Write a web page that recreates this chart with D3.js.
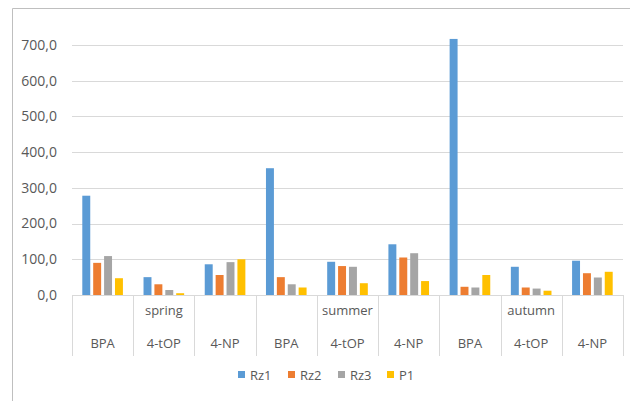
<!DOCTYPE html>
<html><head><meta charset="utf-8">
<script src="https://cdn.jsdelivr.net/npm/d3@7"></script>
<style>
html,body{margin:0;padding:0;background:#fff;}
svg{display:block;font-family:"Open Sans","Noto Sans",sans-serif;}
</style></head>
<body><svg id="c" width="630" height="401"></svg>
<script>
const categories = ["BPA","4-tOP","4-NP","BPA","4-tOP","4-NP","BPA","4-tOP","4-NP"];
const seasons = ["spring","summer","autumn"];
const seriesNames = ["Rz1","Rz2","Rz3","P1"];
const colors = ["#5B9BD5","#ED7D31","#A5A5A5","#FFC000"];
const Rz1 = [278, 50, 86, 355, 93, 142, 717, 79, 96];
const Rz2 = [90, 30, 56, 50, 81, 105, 23, 21, 61];
const Rz3 = [109, 14, 92, 30, 79, 117, 21, 18, 49];
const P1  = [47, 5, 100, 21, 33, 39, 56, 12, 65];
const yTicks = [0,100,200,300,400,500,600,700];

(function(){
const series = [Rz1, Rz2, Rz3, P1];
const svg = d3.select("#c");
const pL = 72, pR = 623, pT = 45, pB = 295;

// outer border
svg.append("line").attr("x1",12.5).attr("x2",12.5).attr("y1",8.5).attr("y2",401).attr("stroke","#bfbfbf");
svg.append("line").attr("x1",12.5).attr("x2",630).attr("y1",8.5).attr("y2",8.5).attr("stroke","#bfbfbf");

const y = d3.scaleLinear().domain([0,700]).range([pB, pT]);
const idx = d3.range(categories.length);
const x0 = d3.scaleBand().domain(idx).range([pL, pR]).padding(0);
const x1 = d3.scaleBand().domain(d3.range(4)).range([10.3, x0.bandwidth()-10.3]).paddingInner(0.27).paddingOuter(0);

// gridlines
svg.append("g").selectAll("line").data(yTicks.filter(d=>d>0)).join("line")
  .attr("x1",pL).attr("x2",pR)
  .attr("y1",d=>Math.round(y(d))+0.5).attr("y2",d=>Math.round(y(d))+0.5)
  .attr("stroke","#d9d9d9").attr("stroke-width",1);

// y labels
svg.append("g").selectAll("text").data(yTicks).join("text")
  .attr("x",57).attr("y",d=>y(d)).attr("dy","0.35em").attr("text-anchor","end")
  .attr("font-size",14).attr("fill","#595959")
  .text(d=>d3.format(".1f")(d).replace(".",","));

// bars
const g = svg.append("g");
series.forEach((vals, s) => {
  g.selectAll(null).data(vals).join("rect")
    .attr("x",(d,i)=>x0(i)+x1(s))
    .attr("width",x1.bandwidth())
    .attr("y",d=>y(d))
    .attr("height",d=>y(0)-y(d))
    .attr("fill",colors[s]);
});

// axis baseline
svg.append("line").attr("x1",pL).attr("x2",pR).attr("y1",pB+0.5).attr("y2",pB+0.5).attr("stroke","#d9d9d9");

// category separators
const seps = d3.range(categories.length+1).map(i => i<categories.length ? x0(i) : pR);
svg.append("g").selectAll("line").data(seps).join("line")
  .attr("x1",d=>Math.round(d)+0.5).attr("x2",d=>Math.round(d)+0.5)
  .attr("y1",pB).attr("y2",356)
  .attr("stroke","#d9d9d9");

// category labels
svg.append("g").selectAll("text").data(categories).join("text")
  .attr("x",(d,i)=>x0(i)+x0.bandwidth()/2).attr("y",343).attr("dy","0.35em")
  .attr("text-anchor","middle").attr("font-size",13).attr("fill","#595959").text(d=>d);

// season labels
svg.append("g").selectAll("text").data(seasons).join("text")
  .attr("x",(d,i)=>x0(i*3+1)+x0.bandwidth()/2).attr("y",310).attr("dy","0.35em")
  .attr("text-anchor","middle").attr("font-size",13).attr("fill","#595959").text(d=>d);

// legend
const legX = [238, 288, 338, 387];
const lg = svg.append("g");
seriesNames.forEach((n,i)=>{
  lg.append("rect").attr("x",legX[i]).attr("y",371).attr("width",7).attr("height",7).attr("fill",colors[i]);
  lg.append("text").attr("x",legX[i]+12).attr("y",375).attr("dy","0.35em")
    .attr("font-size",13).attr("fill","#595959").text(n);
});
})();
</script>
</body></html>
